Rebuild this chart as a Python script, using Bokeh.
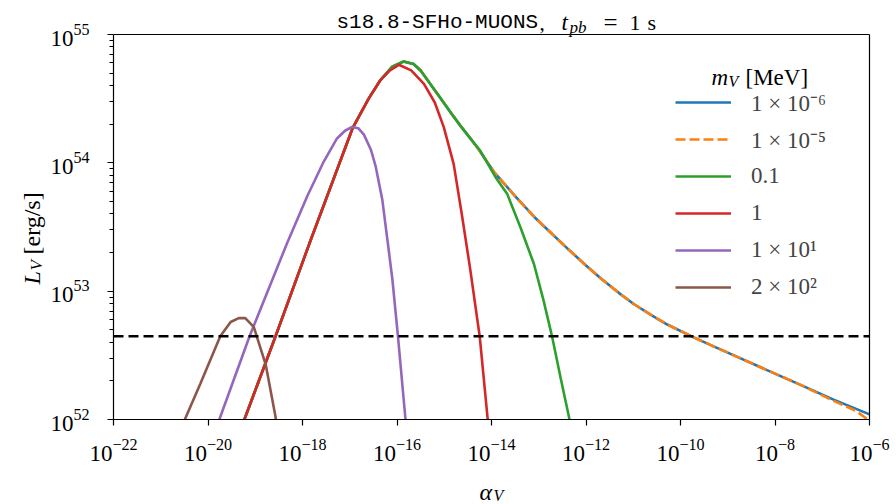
import numpy as np
from bokeh.plotting import figure
from bokeh.layouts import column, row
from bokeh.models import Label, Legend, LegendItem, FixedTicker, Span, LogAxis, Range1d
from bokeh.embed import file_html
from bokeh.resources import INLINE

# ---------------- data (log10 values) ----------------
rise_log_alpha = [-19.40, -19.23, -18.57, -17.83, -16.94, -16.60, -16.35]
rise_log_L     = [51.83, 52.00, 52.649, 53.395, 54.27, 54.50, 54.645]

# m_V = 1e-6 MeV (and 1e-5 MeV, nearly identical)
blue_log_alpha = [-16.10, -15.86, -15.65, -15.50, -15.15, -14.80, -14.66, -14.30, -13.95,
                  -13.50, -13.10, -12.70, -12.40, -12.00, -11.69, -11.30, -10.99, -10.60,
                  -10.28, -9.72, -9.30, -8.87, -8.17, -7.46, -6.76, -6.00]
blue_log_L     = [54.75, 54.79, 54.77, 54.72, 54.54, 54.36, 54.29, 54.12, 53.93,
                  53.74, 53.58, 53.44, 53.335, 53.20, 53.10, 52.985, 52.90, 52.81,
                  52.74, 52.64, 52.57, 52.50, 52.385, 52.27, 52.155, 52.04]
orange_log_alpha = blue_log_alpha[:-2] + [-6.76, -6.30, -6.00]
orange_log_L     = blue_log_L[:-2] + [52.145, 52.07, 51.99]

# m_V = 0.1 MeV
green_log_alpha = [-16.10, -15.86, -15.65, -15.50, -15.15, -14.80, -14.66, -14.23, -13.90,
                   -13.67, -13.39, -13.10, -12.90, -12.72, -12.54, -12.36, -12.30]
green_log_L     = [54.75, 54.79, 54.77, 54.72, 54.54, 54.36, 54.29, 54.09, 53.88,
                   53.76, 53.50, 53.21, 52.93, 52.65, 52.33, 52.02, 51.90]

# m_V = 1 MeV
red_log_alpha = [-16.15, -15.96, -15.70, -15.43, -15.20, -15.01, -14.80, -14.62, -14.45,
                 -14.25, -14.08, -14.04]
red_log_L     = [54.72, 54.764, 54.72, 54.616, 54.47, 54.278, 53.99, 53.58, 53.17,
                 52.649, 52.00, 51.85]

# m_V = 10 MeV
purple_log_alpha = [-19.95, -19.76, -19.12, -18.32, -17.90, -17.55, -17.27, -17.10, -16.95,
                    -16.82, -16.70, -16.55, -16.45, -16.31, -16.21, -16.10, -15.98, -15.82,
                    -15.78]
purple_log_L     = [51.81, 52.00, 52.649, 53.38, 53.74, 54.01, 54.19, 54.25, 54.28,
                    54.27, 54.22, 54.10, 53.97, 53.71, 53.42, 53.10, 52.649, 52.00,
                    51.85]

# m_V = 200 MeV
brown_log_alpha = [-20.55, -20.49, -20.16, -19.74, -19.52, -19.35, -19.21, -19.03, -18.78,
                   -18.57, -18.55]
brown_log_L     = [51.90, 52.00, 52.28, 52.649, 52.76, 52.79, 52.79, 52.72, 52.43,
                   52.02, 51.95]

threshold_L = 10 ** 52.649

legend_labels = ["1 × 10⁻⁶", "1 × 10⁻⁵", "0.1", "1", "1 × 10¹", "2 × 10²"]
colors = ["#1f77b4", "#ff7f0e", "#2ca02c", "#d62728", "#9467bd", "#8c564b"]

x_tick_exps = list(range(-22, -5, 2))
y_tick_exps = [52, 53, 54, 55]
x_lim = (1e-22, 1e-6)
y_lim = (1e52, 1e55)

SERIF = "Liberation Serif"
MONO = "Liberation Mono"

# ---------------- geometry (canvas pixels) ----------------
W, H = 896, 504
YL_W = 46                 # width of left strip holding the y label
XL_H = 40                 # height of bottom strip holding the x label
FL, FR, FT, FB = 113, 869, 34, 419   # plotting box in canvas coordinates
MAIN_W, MAIN_H = W - YL_W, H - XL_H

# the frame reaches the canvas top so that the title can live inside it
px_per_dec = (FB - FT) / 3.0
y_top = 10 ** (55 + FT / px_per_dec)

p = figure(width=MAIN_W, height=MAIN_H, x_axis_type="log", y_axis_type="log",
           x_range=Range1d(*x_lim), y_range=Range1d(y_lim[0], y_top),
           output_backend="svg", toolbar_location=None,
           min_border_left=FL - YL_W, min_border_right=W - FR,
           min_border_top=0, min_border_bottom=MAIN_H - FB)
p.title.visible = False
p.grid.visible = False
p.outline_line_color = None
p.background_fill_color = "white"
p.border_fill_color = "white"

p.xaxis.ticker = FixedTicker(ticks=[10.0 ** e for e in x_tick_exps], minor_ticks=[])
p.yaxis.ticker = FixedTicker(ticks=[10.0 ** e for e in y_tick_exps],
                             minor_ticks=[k * 10.0 ** e for e in y_tick_exps[:-1] for k in range(2, 10)])
p.yaxis.bounds = y_lim
for ax in (p.xaxis, p.yaxis):
    ax.major_label_text_font = SERIF
    ax.major_label_text_font_size = "23px"
    ax.major_label_text_color = "black"
    ax.axis_line_color = "black"
    ax.axis_line_width = 1.2
    ax.major_tick_line_color = "black"
    ax.minor_tick_line_color = "black"
    ax.major_tick_line_width = 1.2
    ax.minor_tick_line_width = 1.0
    ax.major_tick_out = 6
    ax.major_tick_in = 0
    ax.minor_tick_out = 4
    ax.minor_tick_in = 0
p.xaxis.major_label_standoff = 13
p.yaxis.major_label_standoff = 18

# right spine as a bare axis, top spine as a span
right_spine = LogAxis(bounds=y_lim, ticker=FixedTicker(ticks=[], minor_ticks=[]),
                      axis_line_color="black", axis_line_width=1.2,
                      major_tick_out=0, minor_tick_out=0, major_label_text_font_size="0px")
p.add_layout(right_spine, "right")
p.add_layout(Span(location=y_lim[1], dimension="width", line_color="black", line_width=1.2))


def curve(la, lL):
    return np.power(10.0, np.array(la)), np.power(10.0, np.array(lL))


lw = 2.6
series = [
    (rise_log_alpha + blue_log_alpha, rise_log_L + blue_log_L, colors[0], "solid"),
    (rise_log_alpha + orange_log_alpha, rise_log_L + orange_log_L, colors[1], "10 4"),
    (rise_log_alpha + green_log_alpha, rise_log_L + green_log_L, colors[2], "solid"),
    (rise_log_alpha + red_log_alpha, rise_log_L + red_log_L, colors[3], "solid"),
    (purple_log_alpha, purple_log_L, colors[4], "solid"),
    (brown_log_alpha, brown_log_L, colors[5], "solid"),
]
renderers = []
for la, lL, c, dash in series:
    xs, ys = curve(la, lL)
    r = p.line(xs, ys, line_color=c, line_width=lw, line_dash=dash)
    renderers.append(r)

p.add_layout(Span(location=threshold_L, dimension="width", line_color="black",
                  line_width=2.6, line_dash="10 5"))

legend = Legend(items=[LegendItem(label=lab, renderers=[r]) for lab, r in zip(legend_labels, renderers)],
                location=(675 - FL, FB - 303))
legend.glyph_width = 56
legend.glyph_height = 20
legend.label_height = 32
legend.spacing = 5
legend.padding = 0
legend.margin = 0
legend.label_standoff = 20
legend.border_line_alpha = 0
legend.background_fill_alpha = 0
legend.label_text_font = SERIF
legend.label_text_font_size = "23px"
legend.label_text_baseline = "middle"
p.add_layout(legend)


def txt(fig, ox, oy_bottom, xc, yc, text, size, font=SERIF, style="normal", angle=0.0):
    """Place text at canvas position (xc, yc); ox / oy_bottom = canvas x of the figure's
    frame left edge and canvas y of its frame bottom edge."""
    fig.add_layout(Label(x=xc - ox, y=oy_bottom - yc, x_units="screen", y_units="screen",
                         text=text, text_font=font, text_font_size=f"{size}px",
                         text_font_style=style, angle=angle, text_align="left",
                         text_baseline="alphabetic", text_color="black"))


# title (inside main frame, above the plotting box)
txt(p, FL, FB, 336, 22, "s18.8-SFHo-MUONS", 21, font=MONO)
txt(p, FL, FB, 539, 22, ",", 21)
txt(p, FL, FB, 561, 22, "t", 23, style="italic")
txt(p, FL, FB, 569, 27, "pb", 17, style="italic")
txt(p, FL, FB, 603, 22, "=", 25)
txt(p, FL, FB, 629, 22, "1", 22)
txt(p, FL, FB, 647, 22, "s", 22)

# legend title
txt(p, FL, FB, 711, 77, "m", 23, style="italic")
txt(p, FL, FB, 728, 81, "V", 16, style="italic")
txt(p, FL, FB, 745, 77, "[MeV]", 23)


def strip(w, h):
    f = figure(width=w, height=h, x_range=Range1d(0, w), y_range=Range1d(0, h),
               output_backend="svg", toolbar_location=None,
               x_axis_location=None, y_axis_location=None, min_border=0)
    f.title.visible = False
    f.grid.visible = False
    f.outline_line_color = None
    f.background_fill_color = "white"
    f.border_fill_color = "white"
    return f


# y label strip (canvas x 0..46); its frame is aligned with the main frame (bottom at FB)
ylab = strip(YL_W, MAIN_H)
txt(ylab, 0, FB, 31, 284, "L", 24, style="italic", angle=np.pi / 2)
txt(ylab, 0, FB, 36, 270, "V", 17, style="italic", angle=np.pi / 2)
txt(ylab, 0, FB, 31, 254, "[erg/s]", 24, angle=np.pi / 2)

# x label strip (canvas x 0..896, y 464..504)
xlab = strip(W, XL_H)
txt(xlab, 0, H, 479, 491, "α", 24, style="italic")
txt(xlab, 0, H, 493, 495, "V", 16, style="italic")

layout = column(row(ylab, p, spacing=0), xlab, spacing=0)

open("out.html", "w").write(file_html(layout, INLINE))
